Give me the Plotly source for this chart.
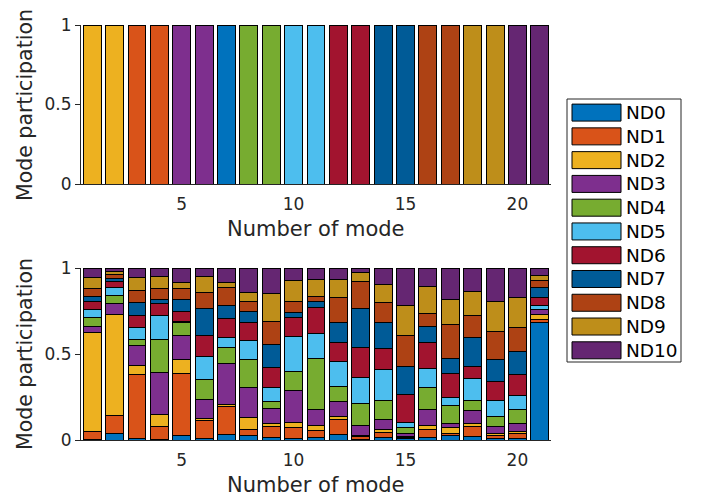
import plotly.graph_objects as go

OFF = 8  # page body margin in the browser
W, H = 701 - OFF, 499 - OFF

modes = list(range(1, 22))
names = ["ND0", "ND1", "ND2", "ND3", "ND4", "ND5", "ND6", "ND7", "ND8", "ND9", "ND10"]
colors = ["#0072BD", "#D95319", "#EDB120", "#7E2F8E", "#77AC30", "#4DBEEE",
          "#A2142F", "#005B97", "#AE4214", "#BE8E1A", "#652672"]

# Top panel: each mode is carried entirely by one ND
top_nd0 = [0, 0, 0, 0, 0, 0, 1, 0, 0, 0, 0, 0, 0, 0, 0, 0, 0, 0, 0, 0, 0]
top_nd1 = [0, 0, 1, 1, 0, 0, 0, 0, 0, 0, 0, 0, 0, 0, 0, 0, 0, 0, 0, 0, 0]
top_nd2 = [1, 1, 0, 0, 0, 0, 0, 0, 0, 0, 0, 0, 0, 0, 0, 0, 0, 0, 0, 0, 0]
top_nd3 = [0, 0, 0, 0, 1, 1, 0, 0, 0, 0, 0, 0, 0, 0, 0, 0, 0, 0, 0, 0, 0]
top_nd4 = [0, 0, 0, 0, 0, 0, 0, 1, 1, 0, 0, 0, 0, 0, 0, 0, 0, 0, 0, 0, 0]
top_nd5 = [0, 0, 0, 0, 0, 0, 0, 0, 0, 1, 1, 0, 0, 0, 0, 0, 0, 0, 0, 0, 0]
top_nd6 = [0, 0, 0, 0, 0, 0, 0, 0, 0, 0, 0, 1, 1, 0, 0, 0, 0, 0, 0, 0, 0]
top_nd7 = [0, 0, 0, 0, 0, 0, 0, 0, 0, 0, 0, 0, 0, 1, 1, 0, 0, 0, 0, 0, 0]
top_nd8 = [0, 0, 0, 0, 0, 0, 0, 0, 0, 0, 0, 0, 0, 0, 0, 1, 1, 0, 0, 0, 0]
top_nd9 = [0, 0, 0, 0, 0, 0, 0, 0, 0, 0, 0, 0, 0, 0, 0, 0, 0, 1, 1, 0, 0]
top_nd10 = [0, 0, 0, 0, 0, 0, 0, 0, 0, 0, 0, 0, 0, 0, 0, 0, 0, 0, 0, 1, 1]

# Bottom panel: mixed participation
bot_nd0 = [0.005, 0.035, 0.010, 0.004, 0.025, 0.010, 0.031, 0.027, 0.012, 0.010, 0.016,
           0.031, 0.004, 0.016, 0.006, 0.012, 0.025, 0.019, 0.008, 0.010, 0.684]
bot_nd1 = [0.045, 0.108, 0.372, 0.072, 0.363, 0.106, 0.161, 0.033, 0.066, 0.060, 0.042,
           0.087, 0.015, 0.029, 0.008, 0.050, 0.014, 0.060, 0.017, 0.029, 0.019]
bot_nd2 = [0.576, 0.588, 0.054, 0.071, 0.081, 0.010, 0.013, 0.070, 0.017, 0.031, 0.027,
           0.020, 0.006, 0.015, 0.005, 0.023, 0.033, 0.018, 0.014, 0.013, 0.028]
bot_nd3 = [0.035, 0.060, 0.114, 0.246, 0.136, 0.110, 0.241, 0.174, 0.087, 0.184, 0.093,
           0.083, 0.058, 0.060, 0.020, 0.091, 0.025, 0.075, 0.042, 0.045, 0.025]
bot_nd4 = [0.050, 0.050, 0.035, 0.194, 0.079, 0.113, 0.093, 0.163, 0.039, 0.114, 0.297,
           0.091, 0.130, 0.111, 0.033, 0.130, 0.101, 0.059, 0.055, 0.081, 0.004]
bot_nd5 = [0.049, 0.045, 0.072, 0.138, 0.005, 0.134, 0.058, 0.109, 0.087, 0.202, 0.145,
           0.145, 0.151, 0.180, 0.031, 0.107, 0.050, 0.128, 0.095, 0.080, 0.021]
bot_nd6 = [0.046, 0.036, 0.064, 0.070, 0.061, 0.124, 0.110, 0.110, 0.114, 0.112, 0.149,
           0.107, 0.173, 0.122, 0.164, 0.155, 0.140, 0.071, 0.112, 0.124, 0.048]
bot_nd7 = [0.029, 0.016, 0.079, 0.019, 0.068, 0.155, 0.074, 0.064, 0.134, 0.029, 0.037,
           0.120, 0.229, 0.153, 0.159, 0.093, 0.087, 0.165, 0.126, 0.134, 0.055]
bot_nd8 = [0.045, 0.023, 0.068, 0.064, 0.062, 0.097, 0.105, 0.056, 0.134, 0.064, 0.031,
           0.147, 0.158, 0.114, 0.183, 0.075, 0.197, 0.128, 0.159, 0.139, 0.042]
bot_nd9 = [0.064, 0.020, 0.078, 0.075, 0.037, 0.089, 0.031, 0.054, 0.161, 0.120, 0.099,
           0.103, 0.051, 0.105, 0.172, 0.157, 0.146, 0.141, 0.176, 0.173, 0.033]
bot_nd10 = [0.056, 0.019, 0.054, 0.047, 0.083, 0.052, 0.083, 0.140, 0.149, 0.074, 0.064,
            0.066, 0.025, 0.095, 0.219, 0.107, 0.182, 0.136, 0.196, 0.172, 0.041]

top_series = [top_nd0, top_nd1, top_nd2, top_nd3, top_nd4, top_nd5,
              top_nd6, top_nd7, top_nd8, top_nd9, top_nd10]
bot_series = [bot_nd0, bot_nd1, bot_nd2, bot_nd3, bot_nd4, bot_nd5,
              bot_nd6, bot_nd7, bot_nd8, bot_nd9, bot_nd10]

x_ticks = [5, 10, 15, 20]
y_ticks = [0, 0.5, 1]
y_ticktext = ["0", "0.5", "1"]

FONT = "DejaVu Sans"
TXT = "#262626"

fig = go.Figure()
for name, col, vals in zip(names, colors, top_series):
    fig.add_trace(go.Bar(
        x=modes, y=[v if v else None for v in vals], name=name,
        marker=dict(color=col, line=dict(color="black", width=1)),
        xaxis="x", yaxis="y", showlegend=False))
for name, col, vals in zip(names, colors, bot_series):
    fig.add_trace(go.Bar(
        x=modes, y=vals, name=name,
        marker=dict(color=col, line=dict(color="black", width=1)),
        xaxis="x2", yaxis="y2", showlegend=False))


def px_x(p):
    return (p - OFF) / W


def px_y(p):
    return 1 - (p - OFF) / H


xdom = [px_x(81), px_x(551)]
axis_common = dict(showgrid=False, zeroline=False, showline=True, linecolor=TXT,
                   linewidth=1, automargin=False,
                   tickfont=dict(family=FONT, size=17, color=TXT))

fig.update_layout(
    template="none",
    width=W, height=H, barmode="stack", bargap=0.2,
    paper_bgcolor="white", plot_bgcolor="white",
    margin=dict(l=0, r=0, t=0, b=0, pad=0, autoexpand=False),
    font=dict(family=FONT, color=TXT),
    xaxis=dict(domain=xdom, anchor="y", range=[0.5, 21.5], tickvals=x_ticks,
               ticks="", ticklabelstandoff=5, **axis_common),
    yaxis=dict(domain=[px_y(184), px_y(25)], anchor="x", range=[0, 1],
               tickvals=y_ticks, ticktext=y_ticktext, ticks="outside", ticklen=5,
               tickcolor=TXT, **axis_common),
    xaxis2=dict(domain=xdom, anchor="y2", range=[0.5, 21.5], tickvals=x_ticks,
                ticks="", ticklabelstandoff=5, **axis_common),
    yaxis2=dict(domain=[px_y(440), px_y(268)], anchor="x2", range=[0, 1],
                tickvals=y_ticks, ticktext=y_ticktext, ticks="outside", ticklen=5,
                tickcolor=TXT, **axis_common),
)

annotations = []
shapes = []
# axis titles
for ycen in (105, 354):
    annotations.append(dict(text="Mode participation", x=px_x(25), y=px_y(ycen),
                            xref="paper", yref="paper", showarrow=False, textangle=-90,
                            font=dict(family=FONT, size=20.5, color=TXT),
                            xanchor="center", yanchor="middle"))
for ycen in (229, 485):
    annotations.append(dict(text="Number of mode", x=px_x(316), y=px_y(ycen),
                            xref="paper", yref="paper", showarrow=False,
                            font=dict(family=FONT, size=21, color=TXT),
                            xanchor="center", yanchor="middle"))

# legend box
shapes.append(dict(type="rect", xref="paper", yref="paper",
                   x0=px_x(567), x1=px_x(681), y0=px_y(362), y1=px_y(99),
                   line=dict(color=TXT, width=1), fillcolor="white", layer="below"))
for i, (name, col) in enumerate(zip(names, colors)):
    yc = 112.6 + 23.77 * i
    shapes.append(dict(type="rect", xref="paper", yref="paper",
                       x0=px_x(572), x1=px_x(621), y0=px_y(yc + 8.5), y1=px_y(yc - 8.5),
                       line=dict(color="black", width=1), fillcolor=col))
    annotations.append(dict(text=name, x=px_x(624), y=px_y(yc), xref="paper", yref="paper",
                            showarrow=False, xanchor="left", yanchor="middle",
                            font=dict(family=FONT, size=18.5, color="black")))

fig.update_layout(annotations=annotations, shapes=shapes)
fig.write_html("out.html")
